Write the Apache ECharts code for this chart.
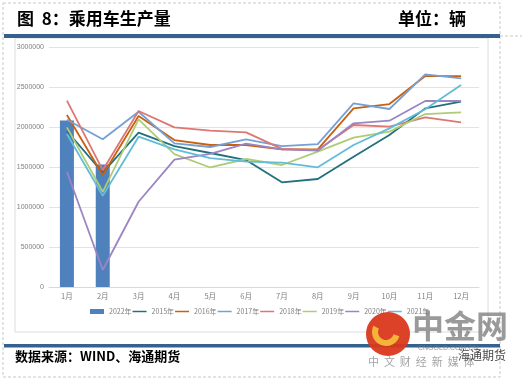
<!DOCTYPE html>
<html><head><meta charset="utf-8">
<script src="https://cdn.jsdelivr.net/npm/echarts@6/dist/echarts.min.js"></script>
<style>html,body{margin:0;padding:0;background:#fff;}#c{width:522px;height:381px;}</style>
</head><body><div id="c"></div>
<script>
var months = ['1月','2月','3月','4月','5月','6月','7月','8月','9月','10月','11月','12月'];
var yTicks = [0, 500000, 1000000, 1500000, 2000000, 2500000, 3000000];
var y2022 = [2080000, 1530000];
var y2015 = [1950000, 1430000, 1929000, 1762000, 1675000, 1587000, 1308000, 1350000, 1629000, 1900000, 2233000, 2317000];
var y2016 = [2150000, 1400000, 2137000, 1837000, 1775000, 1775000, 1721000, 1721000, 2233000, 2287000, 2637000, 2637000];
var y2017 = [2090000, 1846000, 2191000, 1796000, 1750000, 1846000, 1762000, 1787000, 2296000, 2225000, 2658000, 2608000];
var y2018 = [2330000, 1460000, 2200000, 1996000, 1954000, 1933000, 1727000, 1712000, 2025000, 2004000, 2121000, 2058000];
var y2019 = [1996000, 1190000, 2096000, 1662000, 1494000, 1600000, 1525000, 1692000, 1867000, 1942000, 2162000, 2183000];
var y2020 = [1441000, 212000, 1066000, 1592000, 1665000, 1793000, 1721000, 1704000, 2046000, 2079000, 2325000, 2325000];
var y2021 = [1912000, 1140000, 1879000, 1721000, 1612000, 1566000, 1554000, 1496000, 1775000, 1983000, 2221000, 2525000];

var lineSeries = [
  ['2015年', y2015, '#23707d'],
  ['2016年', y2016, '#c8600e'],
  ['2017年', y2017, '#74a0d6'],
  ['2018年', y2018, '#dd7773'],
  ['2019年', y2019, '#aecb78'],
  ['2020年', y2020, '#9c85c2'],
  ['2021年', y2021, '#63bdd6']
];

var series = [{
  name: '2022年', type: 'bar', data: y2022, barWidth: 14,
  itemStyle: {color: '#4f81bd'}, z: 2
}];
lineSeries.forEach(function(s){
  series.push({name: s[0], type: 'line', data: s[1], symbol: 'none', showSymbol: false,
    lineStyle: {color: s[2], width: 1.8}, itemStyle: {color: s[2]}, z: 3});
});

var lineIcon = 'path://M0,0 M0,3.4 L30,3.4 L30,6.6 L0,6.6 Z M30,10';

var chart = echarts.init(document.getElementById('c'));
chart.setOption({
  animation: false,
  backgroundColor: '#fff',
  grid: {left: 49, right: 43, top: 47, bottom: 94},
  legend: {
    left: 85, top: 303, itemWidth: 14, itemHeight: 5, itemGap: 1,
    textStyle: {fontSize: 7, color: '#7f7f7f', fontFamily: 'Noto Sans CJK SC'},
    data: [{name:'2022年', icon:'rect'}].concat(lineSeries.map(function(s){return {name:s[0], icon: lineIcon};}))
  },
  xAxis: {
    type: 'category', data: months, boundaryGap: true,
    axisTick: {show: false},
    axisLine: {lineStyle: {color: '#d9d9d9'}},
    axisLabel: {fontSize: 7.5, color: '#7f7f7f', margin: 5, fontFamily: 'Noto Sans CJK SC'}
  },
  yAxis: {
    type: 'value', min: yTicks[0], max: yTicks[yTicks.length-1], interval: yTicks[1]-yTicks[0],
    axisLine: {show: false}, axisTick: {show: false},
    splitLine: {lineStyle: {color: '#e3e3e3'}},
    axisLabel: {fontSize: 7, color: '#7f7f7f', margin: 5, fontFamily: 'Liberation Sans',
      formatter: function(v){ return String(v); }}
  },
  series: series,
  graphic: [
    {type:'rect', shape:{x:3, y:3, width:497, height:374}, style:{fill:'none', stroke:'#c8c8c8', lineWidth:1, lineDash:[3,2]}, z:0},
    {type:'line', shape:{x1:500, y1:36, x2:522, y2:36}, style:{stroke:'#c8c8c8', lineWidth:1, lineDash:[3,2]}},
    {type:'rect', shape:{x:15, y:38, width:473, height:294}, style:{fill:'none', stroke:'#dcdcdc', lineWidth:1}, z:0},
    {type:'rect', shape:{x:4, y:34, width:496, height:4}, style:{fill:'#35618f'}},
    {type:'rect', shape:{x:4, y:344, width:496, height:3.5}, style:{fill:'#35618f'}},
    {type:'text', left:17, top:10, style:{text:'图  8：乘用车生产量', font:'bold 17px "Noto Sans CJK SC"', fill:'#000'}},
    {type:'text', left:398, top:10, style:{text:'单位：辆', font:'bold 17px "Noto Sans CJK SC"', fill:'#000'}},
    {type:'text', left:15, top:350, style:{text:'数据来源：WIND、海通期货', font:'bold 13px "Noto Sans CJK SC"', fill:'#000'}},
    {type:'circle', shape:{cx:388, cy:334, r:22}, style:{fill:'#d9381c', opacity:0.95}, z:10},
    {type:'arc', shape:{cx:386, cy:332, r:11, startAngle:0.3, endAngle:3.6}, style:{stroke:'#f4b43a', lineWidth:6, fill:'none'}, z:11},
    {type:'text', left:412, top:310, style:{text:'中金网', font:'bold 32px "Noto Sans CJK SC"', fill:'rgba(120,120,120,0.75)'}, z:10},
    {type:'text', left:418, top:345, style:{text:'CNGOLD.COM.CN', font:'7px "Liberation Sans"', fill:'rgba(120,120,120,0.8)'}, z:10},
    {type:'text', left:368, top:356, style:{text:'中  文  财  经  新  媒  体', font:'11px "Noto Sans CJK SC"', fill:'rgba(140,140,140,0.8)'}, z:10},
    {type:'text', left:458, top:349, style:{text:'海通期货', font:'12px "Noto Sans CJK SC"', fill:'rgba(40,40,40,0.85)'}, z:11}
  ]
});
</script></body></html>
